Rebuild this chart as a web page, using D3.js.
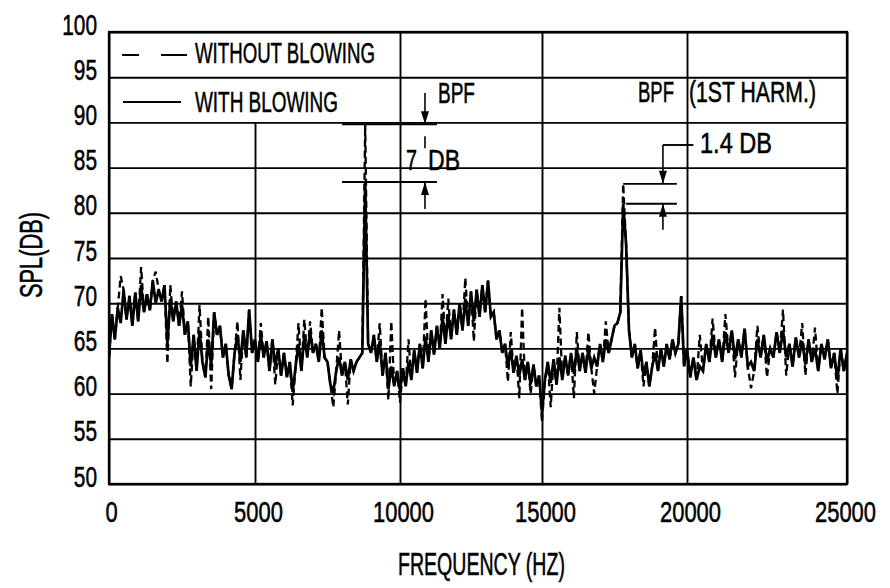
<!DOCTYPE html>
<html>
<head>
<meta charset="utf-8">
<script src="https://cdn.jsdelivr.net/npm/d3@7"></script>
<style>
  html, body { margin: 0; padding: 0; background: #fff; }
  svg { display: block; }
  text { font-family: "Liberation Sans", Arial, sans-serif; fill: #000; stroke: #000; stroke-width: 0.55px; }
</style>
</head>
<body>
<svg id="chart" width="890" height="588"></svg>
<script>
// ---------------- DATA ----------------
const FREQ_STEP = 100; // Hz between samples, starting at 0 Hz
const xTicks = [0, 5000, 10000, 15000, 20000, 25000];
const yTicks = [50, 55, 60, 65, 70, 75, 80, 85, 90, 95, 100];
const seriesNames = ["WITHOUT BLOWING", "WITH BLOWING"];

// SPL (dB) with blowing (solid line)
const withBlowing = [
  64.0, 68.8, 66.0, 69.5, 67.8, 71.5, 68.2, 70.8, 67.5, 71.2,
  68.0, 72.0, 69.0, 71.0, 69.2, 72.5, 70.0, 71.5, 70.2, 72.0,
  65.5, 70.5, 68.0, 70.2, 67.5, 69.8, 66.5, 68.0, 63.0, 66.5,
  62.5, 67.0, 63.5, 61.8, 66.0, 63.0, 69.0, 66.5, 67.5, 64.0,
  65.5, 62.0, 60.5, 64.5, 66.5, 63.5, 67.0, 64.0, 69.3, 64.5,
  66.0, 63.5, 66.5, 64.0, 65.8, 62.5, 66.0, 63.0, 65.0, 62.0,
  64.5, 61.8, 63.5, 60.2, 63.0, 65.5, 62.5, 66.5, 64.0, 66.8,
  64.5, 65.5, 63.5, 67.0, 64.0, 63.5, 61.0, 60.2, 62.5, 64.0,
  62.0, 63.5, 61.5, 63.8, 62.5, 63.5, 64.0, 64.5, 83.4, 65.5,
  64.5, 66.5, 63.5, 65.8, 62.0, 64.5, 60.5, 63.0, 60.8, 62.5,
  60.3, 62.8, 60.8, 63.5, 61.5, 64.8, 62.3, 65.5, 62.8, 66.3,
  63.5, 67.0, 64.3, 67.5, 65.0, 68.5, 65.5, 68.8, 66.0, 69.3,
  66.5, 70.0, 67.0, 70.5, 67.5, 71.3, 68.0, 71.5, 68.5, 72.0,
  69.0, 72.5, 68.5, 69.0, 66.0, 67.0, 64.5, 65.5, 63.0, 64.8,
  62.3, 64.2, 62.0, 63.8, 61.5, 63.5, 61.0, 63.2, 60.8, 62.0,
  57.8, 61.5, 63.5, 61.2, 63.8, 61.0, 64.0, 61.5, 64.2, 62.0,
  64.5, 62.2, 65.0, 62.5, 64.5, 62.3, 65.0, 62.8, 64.0, 63.0,
  65.5, 63.5, 66.0, 64.5, 66.0, 67.5, 67.8, 69.0, 81.0, 76.5,
  67.0, 64.0, 65.5, 62.8, 64.8, 62.0, 63.5, 60.8, 63.0, 64.5,
  62.5, 65.0, 63.0, 65.5, 63.8, 66.0, 64.5, 65.5, 70.8, 63.0,
  65.0, 61.8, 64.0, 61.5, 63.0, 62.5, 65.5, 63.5, 66.5, 64.0,
  66.0, 63.5, 66.8, 64.5, 67.0, 63.8, 66.0, 64.0, 67.2, 63.0,
  63.5, 62.5, 66.0, 64.0, 66.5, 63.5, 65.0, 64.0, 66.8, 64.5,
  67.0, 64.0, 65.5, 63.0, 66.2, 64.0, 65.8, 63.2, 66.0, 63.5,
  65.0, 62.5, 65.5, 63.8, 66.0, 62.8, 64.5, 61.5, 65.0, 62.5,
  64.5
];

// SPL (dB) without blowing (dashed line)
const withoutBlowing = [
  64.0, 68.8, 66.0, 69.5, 73.0, 71.5, 68.2, 70.8, 67.5, 71.2,
  68.0, 74.0, 69.0, 71.0, 69.2, 72.5, 73.5, 71.5, 70.2, 72.0,
  63.3, 72.0, 68.0, 70.2, 67.5, 71.3, 66.5, 68.0, 60.8, 66.5,
  62.5, 69.8, 63.5, 61.8, 68.5, 60.5, 69.0, 66.5, 67.5, 64.0,
  65.5, 62.0, 60.5, 64.5, 68.0, 61.5, 67.0, 64.0, 69.3, 64.5,
  66.0, 63.5, 67.8, 64.0, 65.8, 62.5, 66.0, 61.0, 65.0, 62.0,
  64.5, 61.8, 63.5, 58.7, 63.0, 67.8, 62.5, 68.2, 64.0, 68.0,
  64.5, 65.5, 63.5, 69.5, 64.0, 63.5, 61.0, 58.5, 62.5, 67.0,
  62.0, 63.5, 58.8, 63.8, 62.5, 63.5, 64.0, 64.5, 89.8, 65.5,
  64.5, 66.5, 63.5, 67.8, 62.0, 64.5, 59.3, 68.0, 60.8, 62.5,
  59.0, 62.8, 60.8, 66.0, 61.5, 64.8, 62.3, 65.5, 62.8, 70.5,
  63.5, 67.0, 64.3, 67.5, 65.0, 71.0, 65.5, 70.5, 66.0, 69.3,
  66.5, 70.0, 67.0, 72.8, 67.5, 71.3, 65.8, 71.5, 68.5, 72.0,
  69.0, 72.5, 68.5, 69.0, 66.0, 67.0, 64.5, 65.5, 61.3, 66.8,
  62.3, 64.2, 59.5, 69.5, 61.5, 63.5, 60.0, 63.2, 60.8, 62.0,
  56.8, 61.5, 63.5, 58.5, 63.8, 61.0, 69.5, 61.5, 64.2, 62.0,
  64.5, 59.5, 66.8, 62.5, 64.5, 62.3, 66.8, 62.8, 60.0, 63.0,
  65.5, 63.5, 68.0, 64.5, 66.0, 67.5, 67.8, 69.0, 83.2, 76.5,
  67.0, 64.0, 65.5, 62.8, 64.8, 60.8, 63.5, 60.8, 63.0, 67.3,
  62.5, 65.0, 63.0, 65.5, 63.8, 66.0, 64.5, 65.5, 70.8, 63.0,
  65.0, 61.8, 64.0, 61.5, 66.5, 62.5, 65.5, 63.5, 68.3, 64.0,
  66.0, 63.5, 68.8, 64.5, 67.0, 61.8, 66.0, 64.0, 67.2, 63.0,
  60.6, 62.5, 67.5, 64.0, 66.5, 61.8, 65.0, 64.0, 66.8, 64.5,
  69.3, 62.0, 65.5, 63.0, 66.2, 64.0, 67.8, 62.0, 66.0, 63.5,
  67.3, 62.5, 65.5, 63.8, 66.0, 62.8, 64.5, 60.0, 65.0, 62.5,
  64.5
];

// Annotation anchors (data values)
const bpfFreq = 8800, bpfSolid = 83.4, bpfDashed = 89.8;
const harmFreq = 17800, harmSolid = 81.0, harmDashed = 83.2;

// ---------------- LAYOUT ----------------
const svg = d3.select("#chart");
const pLeft = 109, pRight = 847, pTop = 32, pBottom = 484;
// hand-drawn grid spacing of the original figure
const xPix = [109, 255, 400, 542, 687, 847];
const x = d3.scaleLinear().domain(xTicks).range(xPix);
const y = d3.scaleLinear().domain([50, 100]).range([pBottom, pTop]);
const W = pRight - pLeft, H = pBottom - pTop;

// horizontally squeeze text to a target width (condensed lettering)
function squeeze(sel, widthFn) {
  sel.each(function (d) {
    const n = this.getComputedTextLength();
    const target = typeof widthFn === "function" ? widthFn(d, this) : widthFn;
    const s = n > 0 ? target / n : 1;
    const tx = +(this.getAttribute("x") || 0);
    const ty = +(this.getAttribute("y") || 0);
    this.setAttribute("x", 0);
    this.setAttribute("y", 0);
    this.setAttribute("transform", `translate(${tx},${ty}) scale(${s},1)`);
  });
}

const g = svg.append("g");

// Grid via axes
const xAxis = d3.axisBottom(x).tickValues(xTicks).tickSizeInner(-H).tickSizeOuter(0).tickFormat(d3.format("d"));
const gx = g.append("g").attr("transform", `translate(0,${pBottom})`).call(xAxis);
gx.select(".domain").remove();
gx.selectAll(".tick line").attr("stroke", "#000").attr("stroke-width", 1.9);
// 5000 gridline stops under the legend box
gx.selectAll(".tick").filter(d => d === 5000).select("line").attr("y2", -(pBottom - y(90)));
gx.selectAll(".tick text")
  .attr("y", 38).attr("dy", 0).attr("x", d => (d === 25000 ? -2 : d === 0 ? 2 : 3))
  .attr("fill", "#000")
  .style("font-size", "30px")
  .attr("text-anchor", "middle");
squeeze(gx.selectAll(".tick text"), d => String(d).length * 12.2);

const yAxis = d3.axisLeft(y).tickValues(yTicks).tickSizeInner(-W).tickSizeOuter(0).tickPadding(12);
const gy = g.append("g").attr("transform", `translate(${pLeft},0)`).call(yAxis);
gy.select(".domain").remove();
gy.selectAll(".tick line").attr("stroke", "#000").attr("stroke-width", 1.9);
gy.selectAll(".tick text")
  .attr("dy", 2)
  .attr("fill", "#000")
  .style("font-size", "30px")
  .attr("text-anchor", "end")
  .attr("x", -12);
squeeze(gy.selectAll(".tick text"), d => String(d).length * 11.6);

// Border
g.append("rect").attr("x", pLeft).attr("y", pTop).attr("width", W).attr("height", H)
  .attr("fill", "none").attr("stroke", "#000").attr("stroke-width", 2.3);

// Data lines
svg.append("clipPath").attr("id", "clip").append("rect")
  .attr("x", pLeft).attr("y", pTop).attr("width", W).attr("height", H);
const line = d3.line().x((d, i) => x(i * FREQ_STEP)).y(d => y(d));
g.append("path").datum(withBlowing).attr("d", line).attr("clip-path", "url(#clip)")
  .attr("fill", "none").attr("stroke", "#000").attr("stroke-width", 2.7).attr("stroke-linejoin", "miter");
g.append("path").datum(withoutBlowing).attr("d", line).attr("clip-path", "url(#clip)")
  .attr("fill", "none").attr("stroke", "#000").attr("stroke-width", 2.3).attr("stroke-dasharray", "7,4");

// Text helper
function label(txt, xx, yy, len, size, anchor) {
  const t = g.append("text").attr("x", xx).attr("y", yy)
    .style("font-size", (size || 29) + "px")
    .attr("text-anchor", anchor || "start").text(txt);
  squeeze(t, len);
  return t;
}

// Legend
g.append("line").attr("x1", 122).attr("x2", 187).attr("y1", 55).attr("y2", 55)
  .attr("stroke", "#000").attr("stroke-width", 2).attr("stroke-dasharray", "17,22,26,10");
label(seriesNames[0], 195, 63, 180, 30);
g.append("line").attr("x1", 123).attr("x2", 181).attr("y1", 102).attr("y2", 102)
  .attr("stroke", "#000").attr("stroke-width", 2);
label(seriesNames[1], 195, 112, 143, 30);

// Annotation helpers
function hline(x1, x2, yy) {
  g.append("line").attr("x1", x1).attr("x2", x2).attr("y1", yy).attr("y2", yy)
    .attr("stroke", "#000").attr("stroke-width", 1.9);
}
function vline(xx, y1, y2) {
  g.append("line").attr("x1", xx).attr("x2", xx).attr("y1", y1).attr("y2", y2)
    .attr("stroke", "#000").attr("stroke-width", 1.6);
}
function arrowHead(xx, tipY, dir) { // dir: 1 = pointing down, -1 = pointing up
  const h = 13, w = 4;
  g.append("path")
    .attr("d", `M${xx},${tipY} L${xx - w},${tipY - dir * h} L${xx + w},${tipY - dir * h} Z`)
    .attr("fill", "#000");
}

// BPF annotation
const bx = x(10880);
hline(x(8000), x(11300), y(bpfDashed));
hline(x(8000), x(11300), y(bpfSolid));
vline(bx, 93, y(bpfDashed));
arrowHead(bx, y(bpfDashed), 1);
vline(bx, y(bpfDashed) + 12, y(bpfDashed) + 24);
vline(bx, y(bpfSolid), y(bpfSolid) + 27);
arrowHead(bx, y(bpfSolid), -1);
label("BPF", 438, 103, 37, 29);
label("7", 406, 170, 11, 30);
label("DB", 428, 170, 32, 30);

// 1st harmonic annotation
const hx = x(19170);
hline(x(17800), x(19650), y(harmDashed));
hline(x(17900), x(19650), y(harmSolid));
vline(hx, 145, y(harmDashed));
arrowHead(hx, y(harmDashed), 1);
hline(hx, x(20200), 145);
vline(hx, y(harmSolid), y(harmSolid) + 26);
arrowHead(hx, y(harmSolid), -1);
label("BPF", 638, 102, 36, 29);
label("(1ST HARM.)", 689, 102, 127, 29);
label("1.4 DB", 700, 153, 72, 30);

// Axis titles
const t1 = svg.append("text").attr("x", 398).attr("y", 575).style("font-size", "31px").text("FREQUENCY (HZ)");
squeeze(t1, 167);
const t2 = svg.append("text").attr("x", 0).attr("y", 0).style("font-size", "31px").text("SPL(DB)");
{
  const n = t2.node().getComputedTextLength();
  t2.attr("transform", `translate(42,298) rotate(-90) scale(${86 / n},1)`);
}
</script>
</body>
</html>
